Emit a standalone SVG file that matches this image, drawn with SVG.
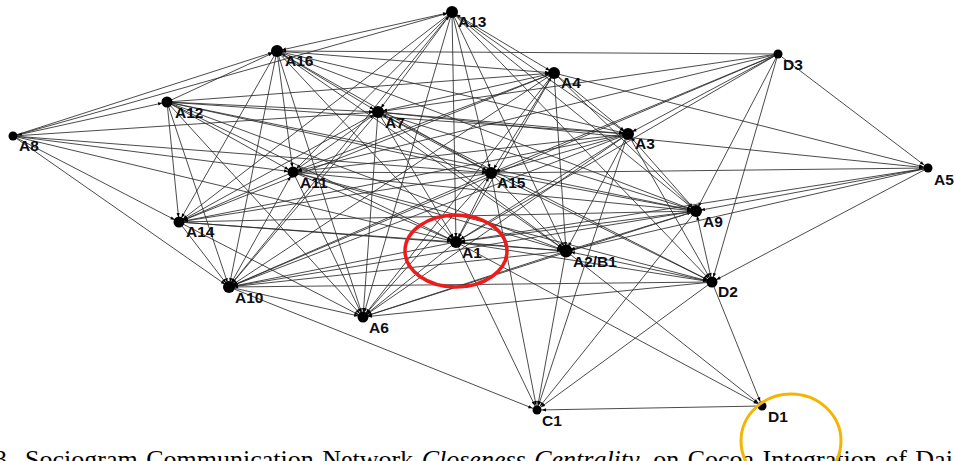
<svg xmlns="http://www.w3.org/2000/svg" width="955" height="461" viewBox="0 0 955 461">
<style>
.bg{fill:#fff}
#connectors line{stroke:#2a2a2a;stroke-width:0.85;fill:none}
.e{marker-end:url(#ah)}
.b{marker-start:url(#ah);marker-end:url(#ah)}
.dot{fill:#000}
.lbl{font-family:"Liberation Sans",Arial,sans-serif;font-weight:bold;font-size:15.5px;fill:#0d0d14}
.cap{font-family:"Liberation Serif","Times New Roman",serif;font-size:26px;fill:#000;word-spacing:2px}
.ring{fill:none}
</style>
<defs>
<marker id="ah" markerUnits="userSpaceOnUse" markerWidth="12" markerHeight="12" refX="6.5" refY="0" orient="auto-start-reverse" overflow="visible" viewBox="-8 -4 16 8">
<path d="M0,0 L-5.5,-2.2 L-5.5,2.2 z" fill="#000"/>
</marker>
</defs>
<rect class="bg" x="0" y="0" width="955" height="461"/>
<g id="connectors">
<line class="e" x1="13" y1="136" x2="452" y2="12"/>
<line class="e" x1="13" y1="136" x2="277" y2="51"/>
<line class="b" x1="13" y1="136" x2="167" y2="102"/>
<line class="e" x1="13" y1="136" x2="378" y2="112"/>
<line class="e" x1="13" y1="136" x2="293" y2="172"/>
<line class="e" x1="13" y1="136" x2="491" y2="173"/>
<line class="e" x1="13" y1="136" x2="456" y2="242"/>
<line class="e" x1="13" y1="136" x2="179" y2="222"/>
<line class="e" x1="13" y1="136" x2="229" y2="287"/>
<line class="b" x1="277" y1="51" x2="452" y2="12"/>
<line class="e" x1="452" y1="12" x2="179" y2="222"/>
<line class="e" x1="452" y1="12" x2="229" y2="287"/>
<line class="e" x1="452" y1="12" x2="293" y2="172"/>
<line class="b" x1="452" y1="12" x2="378" y2="112"/>
<line class="e" x1="452" y1="12" x2="363" y2="317"/>
<line class="e" x1="452" y1="12" x2="456" y2="242"/>
<line class="b" x1="452" y1="12" x2="554" y2="73"/>
<line class="e" x1="452" y1="12" x2="491" y2="173"/>
<line class="e" x1="452" y1="12" x2="628" y2="134"/>
<line class="e" x1="452" y1="12" x2="696" y2="211"/>
<line class="e" x1="452" y1="12" x2="566" y2="251"/>
<line class="e" x1="452" y1="12" x2="712" y2="282"/>
<line class="e" x1="167" y1="102" x2="277" y2="51"/>
<line class="b" x1="277" y1="51" x2="378" y2="112"/>
<line class="e" x1="277" y1="51" x2="554" y2="73"/>
<line class="e" x1="778" y1="54" x2="277" y2="51"/>
<line class="e" x1="277" y1="51" x2="628" y2="134"/>
<line class="e" x1="277" y1="51" x2="293" y2="172"/>
<line class="e" x1="277" y1="51" x2="179" y2="222"/>
<line class="e" x1="277" y1="51" x2="229" y2="287"/>
<line class="e" x1="277" y1="51" x2="363" y2="317"/>
<line class="e" x1="277" y1="51" x2="491" y2="173"/>
<line class="e" x1="277" y1="51" x2="456" y2="242"/>
<line class="e" x1="277" y1="51" x2="566" y2="251"/>
<line class="e" x1="277" y1="51" x2="696" y2="211"/>
<line class="e" x1="167" y1="102" x2="378" y2="112"/>
<line class="e" x1="167" y1="102" x2="554" y2="73"/>
<line class="e" x1="167" y1="102" x2="628" y2="134"/>
<line class="e" x1="167" y1="102" x2="293" y2="172"/>
<line class="e" x1="167" y1="102" x2="491" y2="173"/>
<line class="e" x1="167" y1="102" x2="179" y2="222"/>
<line class="e" x1="167" y1="102" x2="229" y2="287"/>
<line class="e" x1="167" y1="102" x2="456" y2="242"/>
<line class="e" x1="167" y1="102" x2="566" y2="251"/>
<line class="e" x1="167" y1="102" x2="696" y2="211"/>
<line class="e" x1="167" y1="102" x2="363" y2="317"/>
<line class="b" x1="378" y1="112" x2="554" y2="73"/>
<line class="e" x1="378" y1="112" x2="628" y2="134"/>
<line class="e" x1="293" y1="172" x2="378" y2="112"/>
<line class="b" x1="378" y1="112" x2="491" y2="173"/>
<line class="e" x1="378" y1="112" x2="456" y2="242"/>
<line class="e" x1="378" y1="112" x2="566" y2="251"/>
<line class="e" x1="378" y1="112" x2="696" y2="211"/>
<line class="e" x1="378" y1="112" x2="712" y2="282"/>
<line class="e" x1="378" y1="112" x2="229" y2="287"/>
<line class="e" x1="378" y1="112" x2="179" y2="222"/>
<line class="e" x1="378" y1="112" x2="363" y2="317"/>
<line class="e" x1="378" y1="112" x2="928" y2="168"/>
<line class="e" x1="778" y1="54" x2="378" y2="112"/>
<line class="e" x1="778" y1="54" x2="491" y2="173"/>
<line class="e" x1="778" y1="54" x2="628" y2="134"/>
<line class="e" x1="778" y1="54" x2="456" y2="242"/>
<line class="e" x1="778" y1="54" x2="293" y2="172"/>
<line class="e" x1="778" y1="54" x2="696" y2="211"/>
<line class="e" x1="778" y1="54" x2="712" y2="282"/>
<line class="e" x1="778" y1="54" x2="928" y2="168"/>
<line class="e" x1="778" y1="54" x2="229" y2="287"/>
<line class="e" x1="554" y1="73" x2="628" y2="134"/>
<line class="b" x1="554" y1="73" x2="491" y2="173"/>
<line class="e" x1="554" y1="73" x2="456" y2="242"/>
<line class="e" x1="554" y1="73" x2="293" y2="172"/>
<line class="e" x1="554" y1="73" x2="179" y2="222"/>
<line class="e" x1="554" y1="73" x2="229" y2="287"/>
<line class="e" x1="554" y1="73" x2="363" y2="317"/>
<line class="e" x1="554" y1="73" x2="566" y2="251"/>
<line class="e" x1="554" y1="73" x2="696" y2="211"/>
<line class="e" x1="554" y1="73" x2="928" y2="168"/>
<line class="e" x1="628" y1="134" x2="491" y2="173"/>
<line class="e" x1="628" y1="134" x2="456" y2="242"/>
<line class="e" x1="628" y1="134" x2="293" y2="172"/>
<line class="e" x1="628" y1="134" x2="179" y2="222"/>
<line class="e" x1="628" y1="134" x2="229" y2="287"/>
<line class="e" x1="628" y1="134" x2="363" y2="317"/>
<line class="e" x1="628" y1="134" x2="566" y2="251"/>
<line class="b" x1="628" y1="134" x2="696" y2="211"/>
<line class="e" x1="628" y1="134" x2="712" y2="282"/>
<line class="e" x1="628" y1="134" x2="537" y2="410"/>
<line class="e" x1="293" y1="172" x2="491" y2="173"/>
<line class="e" x1="293" y1="172" x2="456" y2="242"/>
<line class="e" x1="293" y1="172" x2="566" y2="251"/>
<line class="e" x1="293" y1="172" x2="696" y2="211"/>
<line class="e" x1="293" y1="172" x2="179" y2="222"/>
<line class="b" x1="293" y1="172" x2="229" y2="287"/>
<line class="e" x1="293" y1="172" x2="363" y2="317"/>
<line class="e" x1="293" y1="172" x2="712" y2="282"/>
<line class="e" x1="491" y1="173" x2="928" y2="168"/>
<line class="b" x1="491" y1="173" x2="456" y2="242"/>
<line class="e" x1="491" y1="173" x2="566" y2="251"/>
<line class="e" x1="491" y1="173" x2="696" y2="211"/>
<line class="e" x1="491" y1="173" x2="179" y2="222"/>
<line class="e" x1="491" y1="173" x2="229" y2="287"/>
<line class="e" x1="491" y1="173" x2="363" y2="317"/>
<line class="e" x1="491" y1="173" x2="712" y2="282"/>
<line class="e" x1="491" y1="173" x2="537" y2="410"/>
<line class="e" x1="179" y1="222" x2="229" y2="287"/>
<line class="e" x1="179" y1="222" x2="456" y2="242"/>
<line class="e" x1="179" y1="222" x2="566" y2="251"/>
<line class="e" x1="179" y1="222" x2="696" y2="211"/>
<line class="e" x1="179" y1="222" x2="363" y2="317"/>
<line class="b" x1="696" y1="211" x2="456" y2="242"/>
<line class="b" x1="696" y1="211" x2="566" y2="251"/>
<line class="e" x1="696" y1="211" x2="229" y2="287"/>
<line class="e" x1="696" y1="211" x2="363" y2="317"/>
<line class="b" x1="712" y1="282" x2="696" y2="211"/>
<line class="e" x1="696" y1="211" x2="537" y2="410"/>
<line class="e" x1="928" y1="168" x2="696" y2="211"/>
<line class="e" x1="928" y1="168" x2="566" y2="251"/>
<line class="e" x1="928" y1="168" x2="456" y2="242"/>
<line class="e" x1="928" y1="168" x2="712" y2="282"/>
<line class="b" x1="456" y1="242" x2="566" y2="251"/>
<line class="e" x1="456" y1="242" x2="229" y2="287"/>
<line class="e" x1="456" y1="242" x2="363" y2="317"/>
<line class="e" x1="456" y1="242" x2="712" y2="282"/>
<line class="e" x1="456" y1="242" x2="537" y2="410"/>
<line class="e" x1="456" y1="242" x2="762" y2="406"/>
<line class="e" x1="566" y1="251" x2="229" y2="287"/>
<line class="e" x1="566" y1="251" x2="363" y2="317"/>
<line class="b" x1="566" y1="251" x2="712" y2="282"/>
<line class="e" x1="566" y1="251" x2="537" y2="410"/>
<line class="e" x1="566" y1="251" x2="762" y2="406"/>
<line class="e" x1="712" y1="282" x2="229" y2="287"/>
<line class="e" x1="712" y1="282" x2="363" y2="317"/>
<line class="e" x1="712" y1="282" x2="537" y2="410"/>
<line class="e" x1="712" y1="282" x2="762" y2="406"/>
<line class="e" x1="762" y1="406" x2="537" y2="410"/>
<line class="e" x1="229" y1="287" x2="363" y2="317"/>
<line class="e" x1="229" y1="287" x2="537" y2="410"/>
</g>
<g id="node-A13"><circle class="dot" cx="452" cy="12" r="6"/><text class="lbl" x="458" y="27">A13</text></g>
<g id="node-A16"><circle class="dot" cx="277" cy="51" r="6"/><text class="lbl" x="285" y="66">A16</text></g>
<g id="node-A4"><circle class="dot" cx="554" cy="73" r="6"/><text class="lbl" x="561" y="88">A4</text></g>
<g id="node-D3"><circle class="dot" cx="778" cy="54" r="4.5"/><text class="lbl" x="783" y="70">D3</text></g>
<g id="node-A12"><circle class="dot" cx="167" cy="102" r="5.5"/><text class="lbl" x="175" y="118">A12</text></g>
<g id="node-A7"><circle class="dot" cx="378" cy="112" r="6"/><text class="lbl" x="385" y="128">A7</text></g>
<g id="node-A8"><circle class="dot" cx="13" cy="136" r="4.5"/><text class="lbl" x="19" y="151">A8</text></g>
<g id="node-A3"><circle class="dot" cx="628" cy="134" r="6"/><text class="lbl" x="635" y="149">A3</text></g>
<g id="node-A5"><circle class="dot" cx="928" cy="168" r="4.5"/><text class="lbl" x="934" y="185">A5</text></g>
<g id="node-A11"><circle class="dot" cx="293" cy="172" r="5.5"/><text class="lbl" x="300" y="188">A11</text></g>
<g id="node-A15"><circle class="dot" cx="491" cy="173" r="6"/><text class="lbl" x="497" y="188">A15</text></g>
<g id="node-A14"><circle class="dot" cx="179" cy="222" r="5.5"/><text class="lbl" x="186" y="237">A14</text></g>
<g id="node-A9"><circle class="dot" cx="696" cy="211" r="6"/><text class="lbl" x="703" y="227">A9</text></g>
<g id="node-A1"><circle class="dot" cx="456" cy="242" r="6"/><text class="lbl" x="462" y="258">A1</text></g>
<g id="node-A2B1"><circle class="dot" cx="566" cy="251" r="6.5"/><text class="lbl" x="573" y="267">A2/B1</text></g>
<g id="node-D2"><circle class="dot" cx="712" cy="282" r="5.5"/><text class="lbl" x="718" y="297">D2</text></g>
<g id="node-A10"><circle class="dot" cx="229" cy="287" r="6"/><text class="lbl" x="235" y="303">A10</text></g>
<g id="node-A6"><circle class="dot" cx="363" cy="317" r="5.5"/><text class="lbl" x="369" y="333">A6</text></g>
<g id="node-C1"><circle class="dot" cx="537" cy="410" r="4.5"/><text class="lbl" x="542" y="426">C1</text></g>
<g id="node-D1"><circle class="dot" cx="762" cy="406" r="4.5"/><text class="lbl" x="768" y="422">D1</text></g>
<text class="cap" x="-6" y="468">3.<tspan x="25">Sociogram Communication Network </tspan><tspan font-style="italic">Closeness Centrality,</tspan> on Cocoa Integration of Dai</text>
<ellipse class="ring" cx="456" cy="251" rx="51" ry="36" stroke="#ec1c1c" stroke-width="3.5"/>
<ellipse class="ring" cx="791" cy="441" rx="50" ry="47" stroke="#f6b400" stroke-width="3"/>
</svg>
